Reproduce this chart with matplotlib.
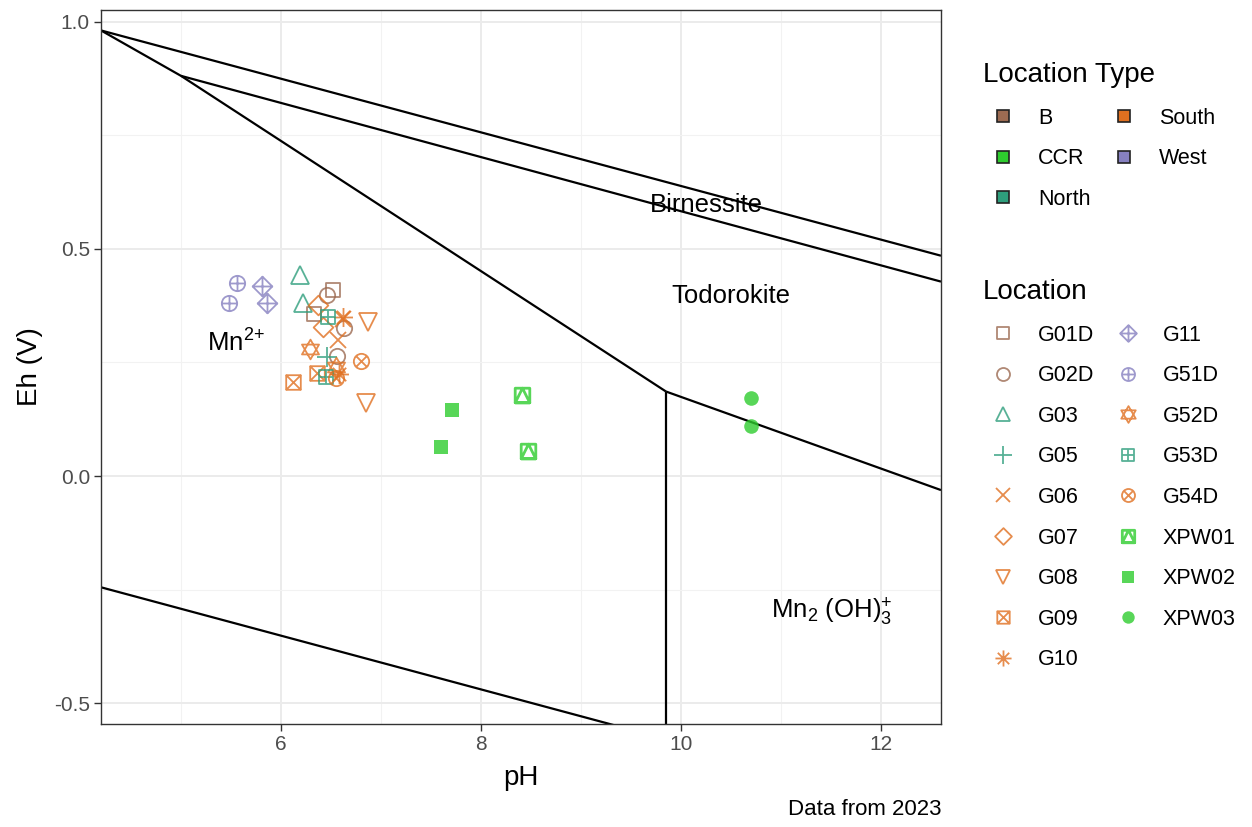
import matplotlib
matplotlib.use("Agg")
import matplotlib.pyplot as plt
from matplotlib.path import Path
from matplotlib.lines import Line2D

plt.rcParams['font.family'] = ['Liberation Sans', 'DejaVu Sans']
plt.rcParams['mathtext.default'] = 'regular'

# ---------------- data ----------------
locations = ["G01D", "G02D", "G03", "G05", "G06", "G07", "G08", "G09", "G10",
             "G11", "G51D", "G52D", "G53D", "G54D", "XPW01", "XPW02", "XPW03"]
loc_type = {"G01D": "B", "G02D": "B", "G03": "North", "G05": "North", "G06": "South",
            "G07": "South", "G08": "South", "G09": "South", "G10": "South",
            "G11": "West", "G51D": "West", "G52D": "South", "G53D": "North",
            "G54D": "South", "XPW01": "CCR", "XPW02": "CCR", "XPW03": "CCR"}
ph_vals = {
    "G01D": [6.52, 6.33], "G02D": [6.46, 6.63, 6.56], "G03": [6.19, 6.22],
    "G05": [6.46], "G06": [6.62, 6.57], "G07": [6.37, 6.42], "G08": [6.87, 6.85],
    "G09": [6.12, 6.36], "G10": [6.62, 6.58], "G11": [5.81, 5.86],
    "G51D": [5.56, 5.48], "G52D": [6.29, 6.55], "G53D": [6.47, 6.45],
    "G54D": [6.80, 6.55], "XPW01": [8.41, 8.47], "XPW02": [7.71, 7.60],
    "XPW03": [10.70, 10.70]}
eh_vals = {
    "G01D": [0.410, 0.357], "G02D": [0.399, 0.326, 0.265], "G03": [0.443, 0.381],
    "G05": [0.262], "G06": [0.345, 0.300], "G07": [0.377, 0.328], "G08": [0.339, 0.160],
    "G09": [0.207, 0.226], "G10": [0.350, 0.225], "G11": [0.418, 0.381],
    "G51D": [0.425, 0.381], "G52D": [0.279, 0.240], "G53D": [0.350, 0.217],
    "G54D": [0.254, 0.215], "XPW01": [0.178, 0.055], "XPW02": [0.145, 0.064],
    "XPW03": [0.172, 0.110]}

types = ["B", "CCR", "North", "South", "West"]
type_colors = {"B": "#9C6B52", "CCR": "#2ECC2E", "North": "#2E9E7C",
               "South": "#E07020", "West": "#8680C0"}

# stability field boundaries (pH, Eh)
line_upper_ph = [4.2, 12.6]
line_upper_eh = [0.981, 0.485]
line_birn_ph = [5.0, 12.6]
line_birn_eh = [0.881, 0.428]
line_mn_ph = [4.2, 5.0, 9.85]
line_mn_eh = [0.981, 0.881, 0.186]
line_tod_ph = [9.85, 12.6]
line_tod_eh = [0.186, -0.031]
line_vert_ph = [9.85, 9.85]
line_vert_eh = [0.186, -0.60]
line_lower_ph = [4.2, 12.6]
line_lower_eh = [-0.245, -0.742]

# ---------------- marker shapes ----------------
M, L, C = Path.MOVETO, Path.LINETO, Path.CLOSEPOLY
def seg(a, b):
    return Path([a, b], [M, L])
sq = Path([(-1, -1), (1, -1), (1, 1), (-1, 1), (-1, -1)], [M, L, L, L, C])
dia = Path([(0, 1), (1, 0), (0, -1), (-1, 0), (0, 1)], [M, L, L, L, C])
circ = Path.unit_circle()
plus_in = [seg((-1, 0), (1, 0)), seg((0, -1), (0, 1))]
s = 0.7071
cross_in_c = [seg((-s, -s), (s, s)), seg((-s, s), (s, -s))]
cross_in_s = [seg((-1, -1), (1, 1)), seg((-1, 1), (1, -1))]
sq_cross = Path.make_compound_path(sq, *cross_in_s)
sq_plus = Path.make_compound_path(sq, *plus_in)
dia_plus = Path.make_compound_path(dia, *plus_in)
circ_plus = Path.make_compound_path(circ, *plus_in)
circ_cross = Path.make_compound_path(circ, *cross_in_c)
asterisk = Path.make_compound_path(*plus_in, *cross_in_c)
tri_up = Path([(0, 1), (-0.866, -0.5), (0.866, -0.5), (0, 1)], [M, L, L, C])
tri_dn = Path([(0, -1), (-0.866, 0.5), (0.866, 0.5), (0, -1)], [M, L, L, C])
star_david = Path.make_compound_path(tri_up, tri_dn)
sq_tri = Path.make_compound_path(sq, Path([(0, 1), (-1, -1), (1, -1), (0, 1)], [M, L, L, C]))

# marker, size multiplier, filled
marker_spec = {
    "G01D": (sq, 1.0, False), "G02D": ("o", 1.05, False), "G03": ("^", 1.2, False),
    "G05": ("+", 1.4, False), "G06": ("x", 1.1, False), "G07": (dia, 1.35, False),
    "G08": ("v", 1.2, False), "G09": (sq_cross, 1.0, False), "G10": (asterisk, 1.3, False),
    "G11": (dia_plus, 1.35, False), "G51D": (circ_plus, 1.05, False),
    "G52D": (star_david, 1.35, False), "G53D": (sq_plus, 1.0, False),
    "G54D": (circ_cross, 1.05, False), "XPW01": (sq_tri, 1.0, False),
    "XPW02": ("s", 0.95, True), "XPW03": ("o", 1.0, True)}

# ---------------- figure ----------------
fig = plt.figure(figsize=(12.52, 8.27), dpi=100)
ax = fig.add_axes([101 / 1252, 1 - 724 / 827, 840 / 1252, 714 / 827])

ax.set_xlim(4.2, 12.6)
ax.set_ylim(-0.546, 1.026)
ax.set_xticks([6, 8, 10, 12])
ax.set_xticks([5, 7, 9, 11], minor=True)
ax.set_yticks([-0.5, 0.0, 0.5, 1.0])
ax.set_yticks([-0.25, 0.25, 0.75], minor=True)
ax.set_yticklabels(["-0.5", "0.0", "0.5", "1.0"])
ax.grid(which="major", color="#EBEBEB", linewidth=1.4, zorder=0)
ax.grid(which="minor", color="#F2F2F2", linewidth=0.8, zorder=0)
ax.set_axisbelow(True)
for sp in ax.spines.values():
    sp.set_color("#333333")
    sp.set_linewidth(1.0)
ax.tick_params(which="major", length=5, width=1, color="#333333",
               labelsize=15, labelcolor="#4D4D4D", pad=3)
ax.tick_params(which="minor", length=0)

lkw = dict(color="black", linewidth=1.6, zorder=2, solid_capstyle="butt")
ax.plot(line_upper_ph, line_upper_eh, **lkw)
ax.plot(line_birn_ph, line_birn_eh, **lkw)
ax.plot(line_mn_ph, line_mn_eh, **lkw)
ax.plot(line_tod_ph, line_tod_eh, **lkw)
ax.plot(line_vert_ph, line_vert_eh, **lkw)
ax.plot(line_lower_ph, line_lower_eh, **lkw)

AFS = 18.5
ax.text(10.25, 0.597, "Birnessite", fontsize=AFS, ha="center", va="center", zorder=3)
ax.text(10.5, 0.397, "Todorokite", fontsize=AFS, ha="center", va="center", zorder=3)
ax.text(5.55, 0.293, "Mn$^{2{+}}$", fontsize=AFS, ha="center", va="center", zorder=3)
ax.text(11.51, -0.300, "Mn$_2$ (OH)$_3^{+}$", fontsize=AFS, ha="center", va="center", zorder=3)

BASE_MS = 10.5
MEW = 1.3
ALPHA = 0.8
loc_handles = []
for loc in locations:
    m, mult, filled = marker_spec[loc]
    col = type_colors[loc_type[loc]]
    mew = 2.0 if loc == "XPW01" else MEW
    ax.plot(ph_vals[loc], eh_vals[loc], linestyle="none", marker=m,
            markersize=BASE_MS * mult, markerfacecolor=col if filled else "none",
            markeredgecolor=col, markeredgewidth=0 if filled else mew,
            alpha=ALPHA, zorder=4)
    loc_handles.append(Line2D([], [], linestyle="none", marker=m,
                              markersize=BASE_MS * mult * 0.85,
                              markerfacecolor=col if filled else "none",
                              markeredgecolor=col, markeredgewidth=0 if filled else mew,
                              alpha=ALPHA))

ax.set_xlabel("pH", fontsize=20, labelpad=8)
ax.set_ylabel("Eh (V)", fontsize=20, labelpad=8)

fig.text(941 / 1252, 1 - 815 / 827, "Data from 2023", fontsize=16, ha="right", va="baseline")

type_handles = [Line2D([], [], linestyle="none", marker="s", markersize=9,
                       markerfacecolor=type_colors[t], markeredgecolor="#222222",
                       markeredgewidth=1.2) for t in types]

common = dict(frameon=False, ncol=2, fontsize=15.5, title_fontsize=20,
              alignment="left", handlelength=1.86, handletextpad=0.7,
              columnspacing=0.62, labelspacing=0.91, borderpad=0, borderaxespad=0)
leg1 = fig.legend(type_handles, types, loc="upper left",
                  bbox_to_anchor=(983 / 1252, 1 - 62 / 827), title="Location Type", **common)
leg2 = fig.legend(loc_handles, locations, loc="upper left",
                  bbox_to_anchor=(983 / 1252, 1 - 279 / 827), title="Location", **common)

fig.savefig("out.png", dpi=100)
